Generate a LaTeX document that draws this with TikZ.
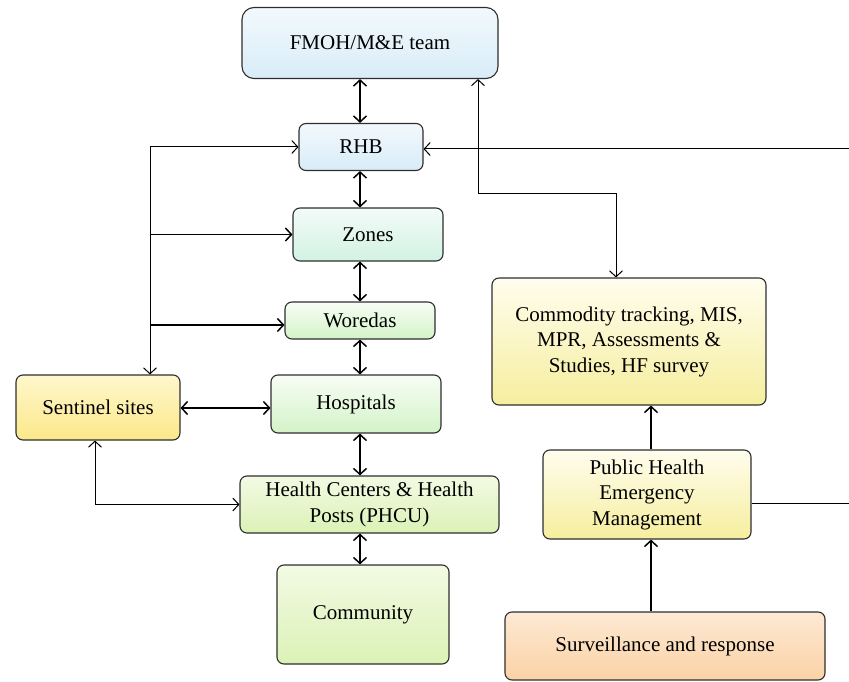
\documentclass[tikz,border=0pt]{standalone}
\usepackage{fontspec}
\setmainfont{Liberation Serif}
\usetikzlibrary{arrows.meta}
\definecolor{edge}{HTML}{2E2E2E}
\definecolor{blueA}{HTML}{F3F9FD}\definecolor{blueB}{HTML}{D8ECF8}
\definecolor{mintA}{HTML}{F3FBF9}\definecolor{mintB}{HTML}{D2F2E3}
\definecolor{leafA}{HTML}{F8FDF5}\definecolor{leafB}{HTML}{D3F3C8}
\definecolor{limeA}{HTML}{F3FAE4}\definecolor{limeB}{HTML}{DBF2B6}
\definecolor{sunA}{HTML}{FFF7CC}\definecolor{sunB}{HTML}{FBE88A}
\definecolor{creamA}{HTML}{FFFDEE}\definecolor{creamB}{HTML}{F6EE9E}
\definecolor{peachA}{HTML}{FDE9D4}\definecolor{peachB}{HTML}{FBD2A5}
\tikzset{
  box/.style={draw=edge, line width=1.1pt, rounded corners=7pt, align=center,
    inner sep=0pt, font=\fontsize{21}{25.5}\selectfont},
  barb/.tip={Straight Barb[length=6pt,width=13pt]},
  link/.style={line width=1.5pt, barb-barb},
  thin link/.style={line width=1pt, barb-barb},
  one way/.style={line width=1.5pt, -barb},
  thin one way/.style={line width=1pt, -barb},
}
\begin{document}
\begin{tikzpicture}[x=1pt,y=-1pt]
            \useasboundingbox (0,0) rectangle (849,682);
            \draw (370,43) node[box, rounded corners=12pt, minimum width=256, minimum height=71, top color=blueA, bottom color=blueB](F) {FMOH/M\&E team};
            \draw (361,147) node[box, minimum width=124, minimum height=47, top color=blueA, bottom color=blueB](R) {RHB};
            \draw (368,234.5) node[box, minimum width=150, minimum height=53, top color=mintA, bottom color=mintB](Z) {Zones};
            \draw (360,320.5) node[box, minimum width=150, minimum height=37, top color=leafA, bottom color=leafB](W) {Woredas};
            \draw (356,404) node[box, minimum width=170, minimum height=58, top color=leafA, bottom color=leafB](H) {Hospitals};
            \draw (98,407.5) node[box, minimum width=164, minimum height=65, top color=sunA, bottom color=sunB](S) {Sentinel sites};
            \draw (369.5,504.5) node[box, minimum width=259, minimum height=57, top color=limeA, bottom color=limeB](HC) {Health Centers \& Health\\Posts (PHCU)};
            \draw (363,614.5) node[box, minimum width=172, minimum height=99, top color=limeA, bottom color=limeB](C) {Community};
            \draw (629,341.5) node[box, minimum width=274, minimum height=127, top color=creamA, bottom color=creamB](M) {Commodity tracking, MIS,\\MPR, Assessments \&\\Studies, HF survey};
            \draw (647,494.5) node[box, minimum width=208, minimum height=89, top color=creamA, bottom color=creamB](P) {Public Health\\Emergency\\Management};
            \draw (665,646) node[box, minimum width=320, minimum height=68, top color=peachA, bottom color=peachB](SR) {Surveillance and response};
            % spine of the hierarchy
            \coordinate (ax) at (360,0);
            \draw[link] (F.south -| ax) -- (R.north -| ax);
            \draw[link] (R.south -| ax) -- (Z.north -| ax);
            \draw[link] (Z.south -| ax) -- (W.north -| ax);
            \draw[link] (W.south -| ax) -- (H.north -| ax);
            \draw[link] (H.south -| ax) -- (HC.north -| ax);
            \draw[link] (HC.south -| ax) -- (C.north -| ax);
            % left bus to sentinel sites
            \coordinate (bus) at (150,147);
            \draw[thin one way] (bus) -- (R.west);
            \draw[thin one way] (bus) -- (bus |- S.north);
            \draw[one way] (bus |- Z.west) -- (Z.west);
            \draw[one way] (150,325) -- (W.west |- 0,325);
            \draw[link] (S.east |- 0,408) -- (H.west |- 0,408);
            \draw[thin link] (95,0 |- S.south) |- (HC.west);
            % right side
            \draw[thin link] (478,0 |- F.south) |- (616,193) -- (616,0 |- M.north);
            \coordinate (E1) at (849,149);
            \coordinate (E2) at (849,503);
            \draw[thin one way] (E1) -- (R.east |- E1);
            \draw[line width=1pt] (P.east |- E2) -- (E2);
            \draw[one way] (651,0 |- P.north) -- (651,0 |- M.south);
            \draw[one way] (651,0 |- SR.north) -- (651,0 |- P.south);
        \end{tikzpicture}
\end{document}
